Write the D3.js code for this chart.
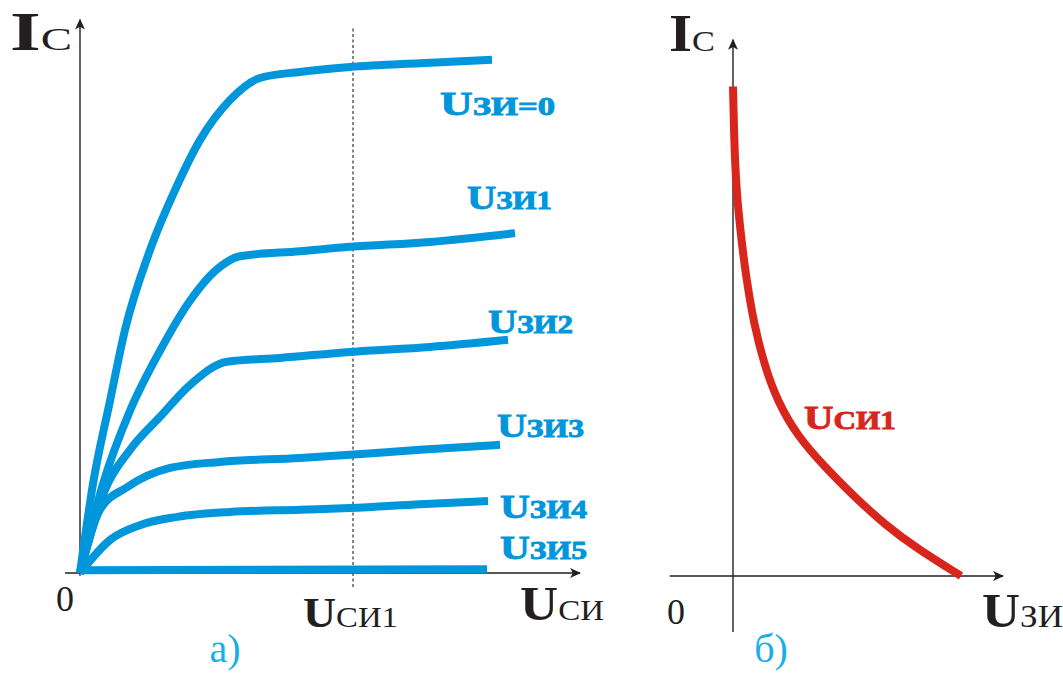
<!DOCTYPE html>
<html>
<head>
<meta charset="utf-8">
<script src="https://cdn.jsdelivr.net/npm/d3@7"></script>
<style>
  body { margin: 0; background: #fff; }
  svg { display: block; }
  text { font-family: "Liberation Serif", "DejaVu Serif", serif; }
</style>
</head>
<body>
<svg id="chart"></svg>
<script>
// а) выходные характеристики Ic(Uси) при разных Uзи  (u, i)
const curveNames = ['Uзи=0', 'Uзи1', 'Uзи2', 'Uзи3', 'Uзи4', 'Uзи5'];
const uzi0 = [[0,0],[0.26,1.62],[0.6,3.13],[0.9,4.42],[1.4,5.87],[1.9,6.96],[2.4,7.87],[3.0,8.6],[3.6,9.0],[4.4,9.11],[5.4,9.2],[6.8,9.27],[8.24,9.33]];
const uzi1 = [[0,0],[0.46,1.62],[1.0,2.95],[1.6,4.04],[2.2,4.95],[2.7,5.49],[3.2,5.76],[4.4,5.85],[5.4,5.93],[7.0,6.02],[8.7,6.18]];
const uzi2 = [[0,0],[0.5,1.51],[1.0,2.24],[1.6,2.84],[2.2,3.42],[2.94,3.84],[4.0,3.91],[5.4,4.02],[7.0,4.11],[8.56,4.24]];
const uzi3 = [[0,0],[0.4,1.15],[0.94,1.56],[1.8,1.91],[2.8,2.02],[4.4,2.09],[5.4,2.15],[6.8,2.24],[8.4,2.33]];
const uzi4 = [[0,0],[0.6,0.6],[1.2,0.87],[1.94,1.02],[3.0,1.11],[4.4,1.15],[5.4,1.18],[6.8,1.25],[8.16,1.31]];
const uzi5 = [[0,0.05],[8.14,0.07]];
const usi1 = 5.46;

// б) передаточная характеристика Ic(Uзи) при Uси1  (u, i)
const transfer = [[0,8.9],[0.03,7.9],[0.08,7.1],[0.15,6.5],[0.31,5.5],[0.53,4.55],[0.8,3.8],[1.1,3.2],[1.6,2.55],[2.3,1.98],[2.95,1.5],[3.8,0.93],[4.6,0.5],[5.7,0]];

const W = 1063, H = 693;
const blue = '#0096dc', red = '#d8261c', ink = '#231f20', cyan = '#1aaee8';

const svg = d3.select('#chart').attr('width', W).attr('height', H);

// стрелки
const defs = svg.append('defs');
defs.append('marker')
    .attr('id', 'arrow')
    .attr('viewBox', '0 0 10 10')
    .attr('refX', 9).attr('refY', 5)
    .attr('markerWidth', 11).attr('markerHeight', 11)
    .attr('markerUnits', 'userSpaceOnUse')
    .attr('orient', 'auto')
    .append('path')
    .attr('d', 'M0,0.5 L10,5 L0,9.5 L2.5,5 Z')
    .attr('fill', ink);

function axisLines(g, x, y, x0, x1, y0, y1) {
    g.append('line')
        .attr('x1', x(x0)).attr('x2', x(x1))
        .attr('y1', y(0)).attr('y2', y(0))
        .attr('stroke', ink).attr('stroke-width', 1.4)
        .attr('marker-end', 'url(#arrow)');
    g.append('line')
        .attr('x1', x(0)).attr('x2', x(0))
        .attr('y1', y(y0)).attr('y2', y(y1))
        .attr('stroke', ink).attr('stroke-width', 1.4)
        .attr('marker-end', 'url(#arrow)');
}

// подпись вида "I" + "с"
function bigLabel(g, x, y, main, sub, mainSize, subSize, len, color, bold) {
    const t = g.append('text')
        .attr('x', x).attr('y', y)
        .attr('fill', color || ink);
    if (len) t.attr('textLength', len).attr('lengthAdjust', 'spacingAndGlyphs');
    if (bold) t.attr('stroke', color).attr('stroke-width', 0.9);
    t.append('tspan').text(main)
        .attr('font-size', mainSize).attr('font-weight', 'bold');
    t.append('tspan').text(sub)
        .attr('font-size', subSize).attr('font-weight', bold ? 'bold' : 'normal');
    return t;
}

// ---------- а) ----------
const xa = d3.scaleLinear().domain([0, 10]).range([80, 580]);
const ya = d3.scaleLinear().domain([0, 10]).range([573, 23]);
const ga = svg.append('g');

axisLines(ga, xa, ya, -0.3, 10, -0.05, 10.06);

ga.append('line')
    .attr('x1', xa(usi1)).attr('x2', xa(usi1))
    .attr('y1', ya(9.9)).attr('y2', ya(-0.3))
    .attr('stroke', ink).attr('stroke-width', 1.1)
    .attr('stroke-dasharray', '3,2.5');

const lineA = d3.line()
    .x(d => xa(d[0])).y(d => ya(d[1]))
    .curve(d3.curveMonotoneX);

const curves = [uzi0, uzi1, uzi2, uzi3, uzi4, uzi5];
ga.selectAll('path.iv')
    .data(curves)
    .join('path')
    .attr('class', 'iv')
    .attr('d', lineA)
    .attr('fill', 'none')
    .attr('stroke', blue)
    .attr('stroke-width', 8)
    .attr('stroke-linecap', 'butt')
    .attr('stroke-linejoin', 'round');

// подписи кривых
const labelPos = [[440, 115, 115], [467, 209, 85], [488, 333, 85], [497, 437, 87], [500, 518, 87], [500, 559, 87]];
curveNames.forEach((name, i) => {
    const p = labelPos[i];
    bigLabel(ga, p[0], p[1], 'U', name.slice(1).toUpperCase(), 34, 26, p[2], blue, true);
});

bigLabel(ga, 10, 50, 'I', 'С', 54, 32, 62);
ga.append('text').attr('x', 65).attr('y', 611)
    .attr('text-anchor', 'middle').attr('font-size', 36)
    .attr('fill', ink).text('0');
bigLabel(ga, 303, 627, 'U', 'СИ1', 42, 30, 95);
bigLabel(ga, 520, 620, 'U', 'СИ', 48, 30, 84);
ga.append('text').attr('x', 225).attr('y', 662)
    .attr('text-anchor', 'middle').attr('font-size', 40)
    .attr('fill', cyan).text('а)');

// ---------- б) ----------
const xb = d3.scaleLinear().domain([0, 6.75]).range([733, 1003]);
const yb = d3.scaleLinear().domain([0, 10]).range([576, 26]);
const gb = svg.append('g');

axisLines(gb, xb, yb, -1.58, 6.75, -1.02, 9.75);

const lineB = d3.line()
    .x(d => xb(d[0])).y(d => yb(d[1]))
    .curve(d3.curveBasis);

gb.append('path')
    .datum(transfer)
    .attr('d', lineB)
    .attr('fill', 'none')
    .attr('stroke', red)
    .attr('stroke-width', 8)
    .attr('stroke-linejoin', 'round');

bigLabel(gb, 804, 429, 'U', 'СИ1', 34, 26, 92, red, true);
bigLabel(gb, 669, 51, 'I', 'С', 52, 30, 46);
gb.append('text').attr('x', 676).attr('y', 624)
    .attr('text-anchor', 'middle').attr('font-size', 36)
    .attr('fill', ink).text('0');
bigLabel(gb, 982, 627, 'U', 'ЗИ', 48, 32, 81);
gb.append('text').attr('x', 771).attr('y', 662)
    .attr('text-anchor', 'middle').attr('font-size', 40)
    .attr('fill', cyan).text('б)');
</script>
</body>
</html>
